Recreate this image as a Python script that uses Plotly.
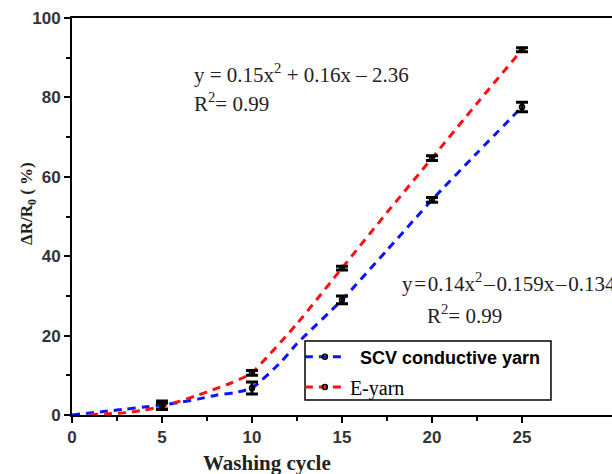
import plotly.graph_objects as go

# Measured resistance change (mean and error) per washing cycle
cycles = [5, 10, 15, 20, 25]
scv_mean = [2.5, 6.8, 29.0, 54.2, 77.6]
scv_err = [1.0, 1.5, 1.0, 0.6, 1.2]
eyarn_mean = [2.2, 10.6, 37.0, 64.7, 92.0]
eyarn_err = [0.8, 0.6, 0.5, 0.6, 0.5]

# Fitted trend curves
scv_fit_x = [0, 1, 2, 3, 4, 5, 6, 7, 8, 9, 10, 11.6, 12.5, 15, 17.5, 20, 22.5, 25]
scv_fit_y = [0, 0.5, 1.0, 1.5, 2.0, 2.5, 3.2, 4.0, 5.0, 5.6, 6.8, 13.3, 18.0, 29.0, 41.5, 54.2, 66.0, 77.6]
eyarn_fit_x = [1, 2, 3, 4, 5, 6, 7, 7.8, 8.8, 9.7, 10, 12.5, 15, 17.5, 20, 22.5, 25]
eyarn_fit_y = [0.1, 0.3, 0.6, 1.2, 2.2, 3.5, 5.0, 6.3, 8.0, 9.8, 10.6, 23.0, 37.0, 51.0, 64.7, 78.5, 92.0]

series_names = ["\u00a0\u00a0SCV conductive yarn", "E-yarn"]
colors = ["#0a14ff", "#ff1010"]

x_ticks = [0, 5, 10, 15, 20, 25]
x_minor = [2.5, 7.5, 12.5, 17.5, 22.5]
y_ticks = [0, 20, 40, 60, 80, 100]
y_minor = [10, 30, 50, 70, 90]

DASH = "8px,6px"

fig = go.Figure()

for fx, fy, col in [(scv_fit_x, scv_fit_y, colors[0]), (eyarn_fit_x, eyarn_fit_y, colors[1])]:
    fig.add_trace(go.Scatter(x=fx, y=fy, mode="lines", showlegend=False,
                             line=dict(color=col, width=3, dash=DASH, shape="spline", smoothing=0.5)))

for ym, ye in [(scv_mean, scv_err), (eyarn_mean, eyarn_err)]:
    fig.add_trace(go.Scatter(x=cycles, y=ym, mode="markers", showlegend=False,
                             marker=dict(symbol="circle-open", size=5, color="black",
                                         line=dict(width=1.5, color="black")),
                             error_y=dict(type="data", array=ye, visible=True,
                                          color="black", thickness=3, width=6)))

# legend entries: one legend per series so each can carry its own font
for name, col, lg in zip(series_names, colors, ["legend", "legend2"]):
    fig.add_trace(go.Scatter(x=[None], y=[None], mode="lines+markers", name=name, legend=lg,
                             line=dict(color=col, width=3, dash=DASH),
                             marker=dict(symbol="circle-open", size=5, color="black",
                                         line=dict(width=1.5, color="black"))))

tick_font = dict(family="Liberation Sans", size=17, color="#333333", weight="bold")
legend_common = dict(x=0.422, xanchor="left", yanchor="middle", borderwidth=0,
                     bgcolor="rgba(0,0,0,0)", itemwidth=40)

fig.update_layout(
    width=612, height=474,
    margin=dict(l=72, r=0, t=18, b=59),
    paper_bgcolor="white", plot_bgcolor="white",
    showlegend=True,
    legend=dict(y=0.146, font=dict(family="Liberation Sans", size=18, color="black", weight="bold"),
                **legend_common),
    legend2=dict(y=0.0705, font=dict(family="Liberation Serif", size=20, color="black"),
                 **legend_common),
    xaxis=dict(range=[0, 30], tickmode="array", tickvals=x_ticks,
               ticks="outside", ticklen=6, tickwidth=2, tickcolor="black",
               showline=True, linecolor="black", linewidth=2, mirror=True,
               showgrid=False, zeroline=False, tickfont=tick_font,
               minor=dict(tickmode="array", tickvals=x_minor, ticks="outside",
                          ticklen=4, tickwidth=2, tickcolor="black", showgrid=False)),
    yaxis=dict(range=[0, 100], tickmode="array", tickvals=y_ticks,
               ticks="outside", ticklen=6, tickwidth=2, tickcolor="black",
               showline=True, linecolor="black", linewidth=2, mirror=False,
               showgrid=False, zeroline=False, tickfont=tick_font,
               minor=dict(tickmode="array", tickvals=y_minor, ticks="outside",
                          ticklen=4, tickwidth=2, tickcolor="black", showgrid=False)),
)

# frame around the two legend rows
fig.add_shape(type="rect", xref="paper", yref="paper", x0=0.4315, x1=0.887, y0=0.0378, y1=0.1864,
              line=dict(color="black", width=1.5), fillcolor="rgba(0,0,0,0)")

eq_font = dict(family="Liberation Serif", size=21, color="#222222")
hs = "\u200a"
annotations = [
    dict(x=6.67, y=86.1, text="y = 0.15x<sup>2</sup> + 0.16x \u2013 2.36"),
    dict(x=6.67, y=78.6, text="R<sup>2</sup>= 0.99"),
    dict(x=18.2, y=33.5, text=f"y{hs}={hs}0.14x<sup>2</sup>{hs}\u2013{hs}0.159x{hs}\u2013{hs}0.134"),
    dict(x=19.6, y=25.2, text="R<sup>2</sup>= 0.99"),
]
for a in annotations:
    fig.add_annotation(xref="x", yref="y", xanchor="left", yanchor="middle",
                       showarrow=False, font=eq_font, **a)

fig.add_annotation(xref="x", yref="paper", x=10.83, y=-0.121, xanchor="center", yanchor="middle",
                   text="<b>Washing cycle</b>", showarrow=False,
                   font=dict(family="Liberation Serif", size=21, color="#222222"))
fig.add_annotation(xref="paper", yref="paper", x=-0.0815, y=0.534, xanchor="center", yanchor="middle",
                   textangle=-90, text="<b>\u0394R/R<sub>0</sub> ( %)</b>", showarrow=False,
                   font=dict(family="Liberation Serif", size=17, color="#222222"))

fig.write_html("out.html")
